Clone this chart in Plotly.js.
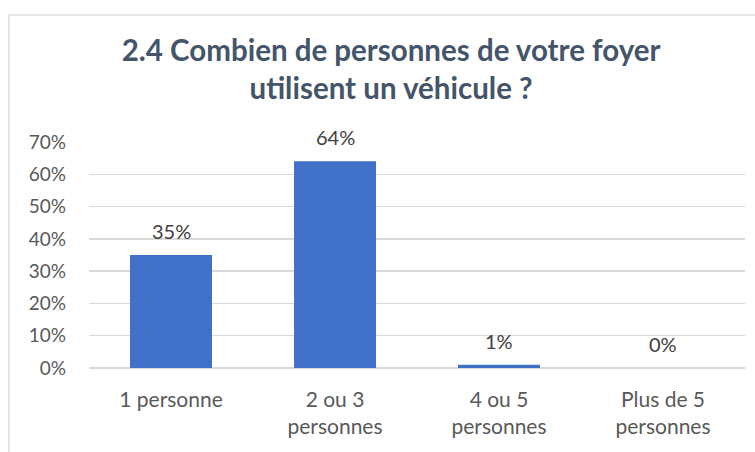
<!DOCTYPE html>
<html>
<head>
<meta charset="utf-8">
<script src="https://cdn.plot.ly/plotly-3.0.1.min.js"></script>
<style>
  body { margin: 0; background: #fff; }
  #wrap { position: relative; width: 755px; height: 452px; overflow: hidden; }
  #myPlot { width: 755px; height: 452px; }
  #frame { position: absolute; left: 8px; top: 14px; width: 800px; height: 500px;
           border: 2px solid #E1E4E8; pointer-events: none; }
</style>
</head>
<body>
<div id="wrap">
  <div id="myPlot"></div>
  <div id="frame"></div>
</div>
<script>
// categories and values
const categories = ["1 personne", "2 ou 3<br>personnes", "4 ou 5<br>personnes", "Plus de 5<br>personnes"];
const shares = [0.35, 0.64, 0.01, 0.0];
const shareLabels = ["35%", "64%", "1%", "0%"];
const tickVals = [0, 0.1, 0.2, 0.3, 0.4, 0.5, 0.6, 0.7];
const tickText = ["0%", "10%", "20%", "30%", "40%", "50%", "60%", "70%"];

const fontFam = "Lato, 'Open Sans', sans-serif";

const data = [{
    type: "bar",
    x: categories,
    y: shares,
    marker: { color: "#4070C8" },
    hoverinfo: "skip"
}];

// value labels above the bars
var notes = [];
for (i = 0; i < categories.length; i++) {
    notes.push({
        x: categories[i],
        y: shares[i],
        text: shareLabels[i],
        showarrow: false,
        yanchor: "bottom",
        yshift: 10,
        font: { family: fontFam, size: 20, color: "#404040" }
    });
}

const layout = {
    width: 755,
    height: 452,
    margin: { l: 89, r: 10, t: 142, b: 84 },
    paper_bgcolor: "#fff",
    plot_bgcolor: "#fff",
    bargap: 0.5,
    showlegend: false,
    title: {
        text: "<b>2.4 Combien de personnes de votre foyer<br>utilisent un véhicule ?</b>",
        font: { family: fontFam, size: 29.5, color: "#44546A" },
        xref: "container", x: 0.518, xanchor: "center",
        yref: "container", y: 1 - 61 / 452, yanchor: "top"
    },
    xaxis: {
        tickfont: { family: fontFam, size: 21, color: "#595959" },
        showgrid: false,
        showline: false,
        ticks: "",
        ticklabelstandoff: 17,
        fixedrange: true
    },
    yaxis: {
        range: [0, 0.7],
        tickvals: tickVals,
        ticktext: tickText,
        tickfont: { family: fontFam, size: 19, color: "#595959" },
        gridcolor: "#D9D9D9",
        gridwidth: 1.5,
        zeroline: true,
        zerolinecolor: "#D9D9D9",
        zerolinewidth: 1.5,
        ticks: "",
        ticklabelstandoff: 22,
        fixedrange: true
    },
    annotations: notes
};

Plotly.newPlot("myPlot", data, layout, { displayModeBar: false, staticPlot: true });
</script>
</body>
</html>
